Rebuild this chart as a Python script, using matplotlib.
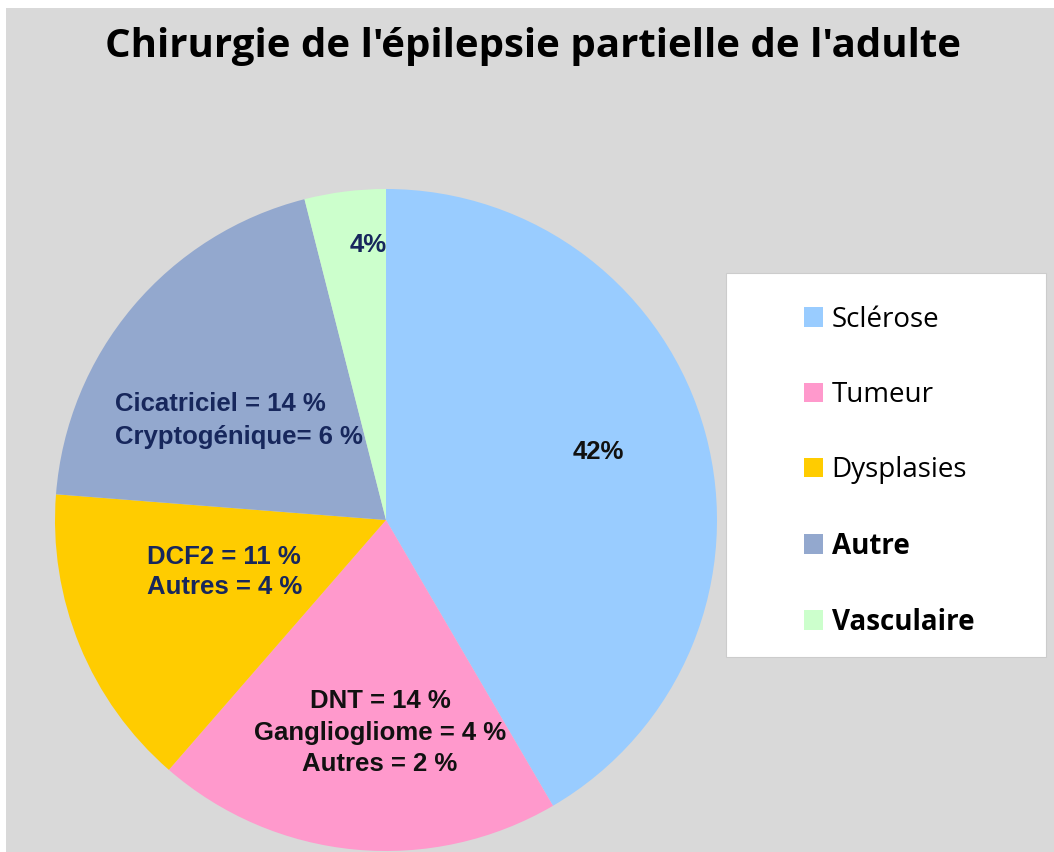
import matplotlib.pyplot as plt
from matplotlib.patches import Rectangle

# Data
categories = ['Sclérose', 'Tumeur', 'Dysplasies', 'Autre', 'Vasculaire']
values = [42, 20, 15, 20, 4]
colors = ['#99CCFF', '#FF99CC', '#FFCC00', '#93A8CE', '#CCFFCC']
bold_legend = [False, False, False, True, True]

slice_labels = ['42%',
                'DNT = 14 %\nGangliogliome = 4 %\nAutres = 2 %',
                'DCF2 = 11 %\nAutres = 4 %',
                'Cicatriciel = 14 %\nCryptogénique= 6 %',
                '4%']

W, H = 1054, 852
fig = plt.figure(figsize=(W / 100, H / 100), dpi=100, facecolor='white')

# grey background with thin white frame top/left
fig.patches.append(Rectangle((6 / W, 0), 1, 1 - 8 / H, transform=fig.transFigure,
                             facecolor='#D9D9D9', edgecolor='none', zorder=-5))

# pie axes: centre (386, 520) px, radius 331 px
cx, cy, r = 386, 520, 331
ax = fig.add_axes([(cx - r) / W, (H - cy - r) / H, 2 * r / W, 2 * r / H])
ax.set_zorder(3)
wedges, _ = ax.pie(values, colors=colors, startangle=90, counterclock=False,
                   radius=1, wedgeprops=dict(linewidth=0))
ax.set_xlim(-1, 1)
ax.set_ylim(-1, 1)
ax.set_aspect('equal')
ax.axis('off')

navy = '#17275C'
font = 'Liberation Sans'
fs = 18.5
ax.text(0.64, 0.205, slice_labels[0], ha='center', va='center', fontsize=fs,
        fontweight='bold', family=font, color='#111111')
ax.text(-0.018, -0.643, slice_labels[1], ha='center', va='center', fontsize=fs,
        fontweight='bold', family=font, color='#111111', linespacing=1.4, multialignment='center')
ax.text(-0.489, -0.157, slice_labels[2], ha='center', va='center', fontsize=fs,
        fontweight='bold', family=font, color=navy, linespacing=1.35, multialignment='left')
ax.text(-0.819, 0.30, slice_labels[3], ha='left', va='center', fontsize=fs,
        fontweight='bold', family=font, color=navy, linespacing=1.5)
ax.text(-0.054, 0.83, slice_labels[4], ha='center', va='center', fontsize=fs,
        fontweight='bold', family=font, color=navy)

# title
fig.text(533 / W, 1 - 47 / H, "Chirurgie de l'épilepsie partielle de l'adulte",
         ha='center', va='center', fontsize=29, fontweight='bold',
         family='Open Sans', color='black')

# legend box
fig.patches.append(Rectangle((726 / W, 1 - 657 / H), 320 / W, 384 / H,
                             transform=fig.transFigure, facecolor='white',
                             edgecolor='#CCCCCC', linewidth=0.8, zorder=-4))
leg = fig.legend(wedges, categories, loc='upper left',
                 bbox_to_anchor=(790 / W, 1 - 292 / H), frameon=False,
                 prop={'family': 'Open Sans', 'size': 20},
                 handlelength=0.7, handleheight=0.7, handletextpad=0.3,
                 labelspacing=1.7, borderpad=0)
for txt, b in zip(leg.get_texts(), bold_legend):
    if b:
        txt.set_fontweight('bold')

fig.savefig('out.png', dpi=100, facecolor=fig.get_facecolor())
